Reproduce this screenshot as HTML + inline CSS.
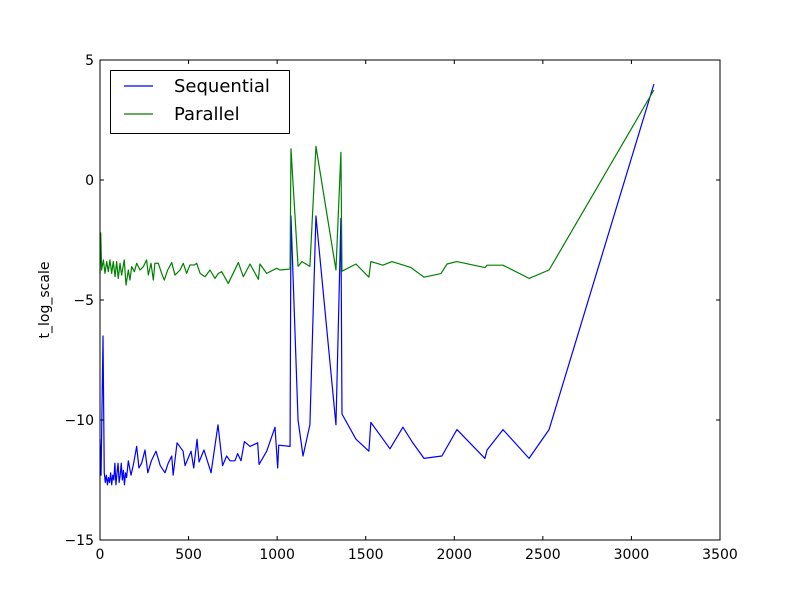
<!DOCTYPE html>
<html><head><meta charset="utf-8"><style>
body{margin:0;background:#fff}
svg{display:block;font-family:"DejaVu Sans","Liberation Sans",sans-serif}
</style></head><body>
<svg id="chart" width="800" height="600" viewBox="0 0 800 600">
<rect x="0" y="0" width="800" height="600" fill="#fff"/>
<g id="plot"></g>
</svg>
<script>
const seqX=[0,6,17,24,30,36,42,48,54,60,66,72,78,84,90,96,102,108,114,120,126,132,138,144,150,160,175,190,207,220,235,254,270,290,316,340,367,385,405,413,435,469,480,514,529,548,559,587,627,666,692,715,734,762,777,796,815,847,890,898,941,988,1003,1009,1073,1078,1118,1146,1185,1219,1332,1360,1366,1445,1518,1529,1637,1710,1761,1829,1930,2015,2173,2185,2275,2422,2535,3127];
const seqY=[-10.8,-12.3,-6.5,-12.2,-12.6,-12.3,-12.7,-12.4,-12.6,-12.2,-12.7,-12.3,-12.5,-11.8,-12.7,-12.2,-11.8,-12.6,-12.3,-11.8,-12.5,-12.1,-12.7,-12.2,-12.4,-11.7,-12.3,-11.8,-11.1,-12.0,-11.8,-11.25,-12.2,-11.7,-11.3,-11.9,-12.2,-11.8,-11.5,-12.3,-10.95,-11.3,-11.9,-11.3,-12.0,-10.8,-11.75,-11.25,-12.2,-10.2,-11.9,-11.5,-11.7,-11.7,-11.4,-11.7,-10.9,-11.1,-10.95,-11.85,-11.3,-10.3,-12.0,-11.05,-11.1,-1.5,-10.0,-11.5,-10.2,-1.5,-10.2,-1.6,-9.75,-10.8,-11.3,-10.1,-11.2,-10.3,-10.9,-11.6,-11.5,-10.4,-11.6,-11.25,-10.4,-11.6,-10.4,4.0];
const parX=[0,4,9,19,28,38,47,56,66,75,85,94,103,113,122,137,147,160,169,179,194,207,226,245,263,273,288,301,310,329,348,363,382,405,423,452,470,489,508,533,546,565,593,621,649,668,687,724,781,809,847,894,903,941,997,1016,1073,1078,1118,1140,1185,1219,1332,1360,1366,1445,1518,1529,1597,1648,1756,1829,1925,1959,2015,2173,2185,2275,2422,2535,3127];
const parY=[-3.9,-2.2,-3.75,-3.33,-3.89,-3.4,-3.82,-3.33,-3.89,-3.4,-4.03,-3.4,-4.1,-3.47,-3.96,-3.33,-4.38,-3.75,-4.17,-3.61,-3.82,-3.47,-3.75,-3.61,-3.33,-3.96,-3.47,-4.17,-3.47,-3.47,-3.89,-4.17,-3.75,-3.44,-3.96,-3.75,-3.47,-3.89,-3.54,-3.54,-3.47,-3.89,-4.03,-3.75,-4.1,-3.89,-3.82,-4.31,-3.44,-4.03,-3.5,-4.14,-3.5,-3.89,-3.68,-3.75,-3.71,1.3,-3.6,-3.4,-3.6,1.4,-3.75,1.15,-3.8,-3.5,-4.05,-3.4,-3.55,-3.4,-3.65,-4.05,-3.9,-3.5,-3.4,-3.65,-3.55,-3.55,-4.1,-3.75,3.75];
const xTicks=[0,500,1000,1500,2000,2500,3000,3500];
const yTicks=[-15,-10,-5,0,5];
const yTickLabels=["\u221215","\u221210","\u22125","0","5"];

const L=100,R=720,T=60,B=540,X0=0,X1=3500,Y0=-15,Y1=5;
const sx=v=>L+(v-X0)/(X1-X0)*(R-L);
const sy=v=>B-(v-Y0)/(Y1-Y0)*(B-T);
const NS="http://www.w3.org/2000/svg";
const g=document.getElementById('plot');
function mk(t,a,p){const e=document.createElementNS(NS,t);for(const k in a)e.setAttribute(k,a[k]);(p||g).appendChild(e);return e;}

function series(xs,ys,color,name){
  const d=xs.map((x,i)=>(i?'L':'M')+sx(x).toFixed(2)+' '+sy(ys[i]).toFixed(2)).join(' ');
  const p=mk('path',{d:d,fill:'none',stroke:color,'stroke-width':1.2,'stroke-linejoin':'round'});
  
  
}
const clip=mk('clipPath',{id:'c'});mk('rect',{x:L,y:T,width:R-L,height:B-T},clip);
series(seqX,seqY,'#0000ff','sequential-line');
series(parX,parY,'#008000','parallel-line');

const frame=mk('rect',{x:L,y:T,width:R-L,height:B-T,fill:'none',stroke:'#000','stroke-width':1});



xTicks.forEach(v=>{
  const x=sx(v);
  mk('line',{x1:x,y1:B,x2:x,y2:B-4,stroke:'#000'});
  mk('line',{x1:x,y1:T,x2:x,y2:T+4,stroke:'#000'});
  const t=mk('text',{x:x,y:B+19,'text-anchor':'middle','font-size':14});
  t.textContent=v;
  
  
});
yTicks.forEach((v,i)=>{
  const y=sy(v);
  mk('line',{x1:L,y1:y,x2:L+4,y2:y,stroke:'#000'});
  mk('line',{x1:R,y1:y,x2:R-4,y2:y,stroke:'#000'});
  const t=mk('text',{x:L-6,y:y+5,'text-anchor':'end','font-size':14});
  t.textContent=yTickLabels[i];
  
  
});
const yt=mk('text',{x:0,y:0,transform:'translate(49,300) rotate(-90)','text-anchor':'middle','font-size':14});
yt.textContent='t_log_scale';



const lg=mk('g',{});


mk('rect',{x:110.5,y:70.5,width:179,height:63,fill:'#fff',stroke:'#000','stroke-width':1},lg);
[['Sequential','#0000ff',86],['Parallel','#008000',114]].forEach(([n,c,y])=>{
  const e=mk('g',{},lg);
  
  
  mk('line',{x1:124,y1:y,x2:153,y2:y,stroke:c,'stroke-width':1.2},e);
  const t=mk('text',{x:174,y:y+6,'font-size':18},e);
  t.textContent=n;
});
</script>
</body></html>
